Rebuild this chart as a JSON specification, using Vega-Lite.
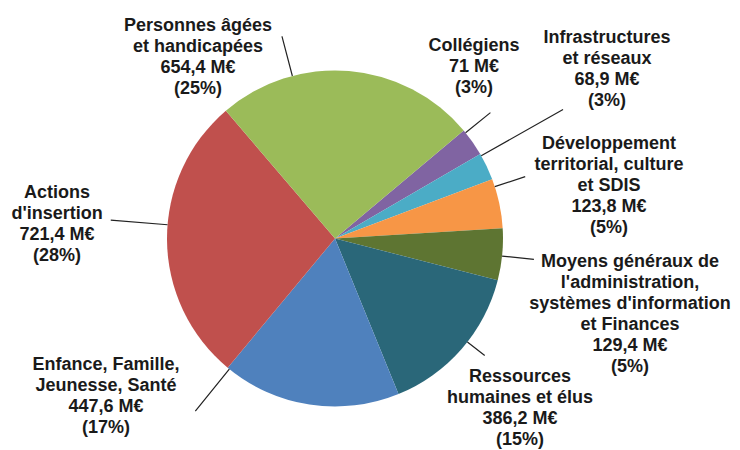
{
  "$schema": "https://vega.github.io/schema/vega-lite/v6.json",
  "width": 670,
  "height": 423,
  "autosize": {"type": "none"},
  "padding": {"left": 0, "top": 27, "right": 70, "bottom": 0},
  "background": "white",
  "config": {
    "view": {"stroke": null},
    "text": {"font": "Liberation Sans", "fontSize": 18, "fontWeight": "bold", "lineHeight": 21, "lineBreak": "\n", "align": "center", "baseline": "middle", "color": "#1a1a1a"}
  },
  "data": {"values": [
    {"ordre": 1, "poste": "Collégiens", "montant": 71, "etiquette": "Collégiens\n71 M€\n(3%)"},
    {"ordre": 2, "poste": "Infrastructures et réseaux", "montant": 68.9, "etiquette": "Infrastructures\net réseaux\n68,9 M€\n(3%)"},
    {"ordre": 3, "poste": "Développement territorial, culture et SDIS", "montant": 123.8, "etiquette": "Développement\nterritorial, culture\net SDIS\n123,8 M€\n(5%)"},
    {"ordre": 4, "poste": "Moyens généraux de l'administration, systèmes d'information et Finances", "montant": 129.4, "etiquette": "Moyens généraux de\nl'administration,\nsystèmes d'information\net Finances\n129,4 M€\n(5%)"},
    {"ordre": 5, "poste": "Ressources humaines et élus", "montant": 386.2, "etiquette": "Ressources\nhumaines et élus\n386,2 M€\n(15%)"},
    {"ordre": 6, "poste": "Enfance, Famille, Jeunesse, Santé", "montant": 447.6, "etiquette": "Enfance, Famille,\nJeunesse, Santé\n447,6 M€\n(17%)"},
    {"ordre": 7, "poste": "Actions d'insertion", "montant": 721.4, "etiquette": "Actions\nd'insertion\n721,4 M€\n(28%)"},
    {"ordre": 8, "poste": "Personnes âgées et handicapées", "montant": 654.4, "etiquette": "Personnes âgées\net handicapées\n654,4 M€\n(25%)"}
  ]},
  "transform": [
    {"stack": "montant", "groupby": [], "sort": [{"field": "ordre", "order": "ascending"}], "as": ["debut", "fin"]}
  ],
  "layer": [
    {
      "mark": {"type": "arc", "outerRadius": 168, "stroke": null},
      "encoding": {
        "theta": {"field": "fin", "type": "quantitative", "stack": null, "scale": {"range": [0.87266, 7.15585], "nice": false, "zero": true}},
        "theta2": {"field": "debut"},
        "color": {"field": "poste", "type": "nominal", "legend": null,
          "scale": {"domain": ["Collégiens", "Infrastructures et réseaux", "Développement territorial, culture et SDIS", "Moyens généraux de l'administration, systèmes d'information et Finances", "Ressources humaines et élus", "Enfance, Famille, Jeunesse, Santé", "Actions d'insertion", "Personnes âgées et handicapées"],
            "range": ["#8064A2", "#4BACC6", "#F79646", "#5E7532", "#2A6779", "#4F81BD", "#C0504D", "#9BBB59"]}}
      }
    },
    {"transform": [{"filter": "datum.ordre == 1"}], "mark": {"type": "arc", "innerRadius": 168, "outerRadius": 200, "thetaOffset": 0.01745, "theta2Offset": 0.01745, "fillOpacity": 0, "stroke": "#222", "strokeWidth": 1.2},
      "encoding": {"theta": {"field": "debut", "type": "quantitative", "stack": null}, "theta2": {"field": "debut"}}},
    {"transform": [{"filter": "datum.ordre == 2"}], "mark": {"type": "arc", "innerRadius": 168, "outerRadius": 262, "thetaOffset": 0.01185, "theta2Offset": 0.01185, "fillOpacity": 0, "stroke": "#222", "strokeWidth": 1.2},
      "encoding": {"theta": {"field": "debut", "type": "quantitative", "stack": null}, "theta2": {"field": "debut"}}},
    {"transform": [{"filter": "datum.ordre == 3"}], "mark": {"type": "arc", "innerRadius": 168, "outerRadius": 200, "thetaOffset": 0.04623, "theta2Offset": 0.04623, "fillOpacity": 0, "stroke": "#222", "strokeWidth": 1.2},
      "encoding": {"theta": {"field": "debut", "type": "quantitative", "stack": null}, "theta2": {"field": "debut"}}},
    {"transform": [{"filter": "datum.ordre == 4"}], "mark": {"type": "arc", "innerRadius": 168, "outerRadius": 200, "thetaOffset": 0.16624, "theta2Offset": 0.16624, "fillOpacity": 0, "stroke": "#222", "strokeWidth": 1.2},
      "encoding": {"theta": {"field": "debut", "type": "quantitative", "stack": null}, "theta2": {"field": "debut"}}},
    {"transform": [{"filter": "datum.ordre == 5"}], "mark": {"type": "arc", "innerRadius": 168, "outerRadius": 190, "thetaOffset": 0.41237, "theta2Offset": 0.41237, "fillOpacity": 0, "stroke": "#222", "strokeWidth": 1.2},
      "encoding": {"theta": {"field": "debut", "type": "quantitative", "stack": null}, "theta2": {"field": "debut"}}},
    {"transform": [{"filter": "datum.ordre == 6"}], "mark": {"type": "arc", "innerRadius": 168, "outerRadius": 222, "thetaOffset": 1.0681, "theta2Offset": 1.0681, "fillOpacity": 0, "stroke": "#222", "strokeWidth": 1.2},
      "encoding": {"theta": {"field": "debut", "type": "quantitative", "stack": null}, "theta2": {"field": "debut"}}},
    {"transform": [{"filter": "datum.ordre == 7"}], "mark": {"type": "arc", "innerRadius": 168, "outerRadius": 225, "thetaOffset": 0.9599, "theta2Offset": 0.9599, "fillOpacity": 0, "stroke": "#222", "strokeWidth": 1.2},
      "encoding": {"theta": {"field": "debut", "type": "quantitative", "stack": null}, "theta2": {"field": "debut"}}},
    {"transform": [{"filter": "datum.ordre == 8"}], "mark": {"type": "arc", "innerRadius": 168, "outerRadius": 209, "thetaOffset": 0.4506, "theta2Offset": 0.4506, "fillOpacity": 0, "stroke": "#222", "strokeWidth": 1.2},
      "encoding": {"theta": {"field": "debut", "type": "quantitative", "stack": null}, "theta2": {"field": "debut"}}},
    {"transform": [{"filter": "datum.ordre == 1"}], "mark": {"type": "text", "radius": 220.4, "thetaOffset": -0.19, "dy": -21},
      "encoding": {"theta": {"field": "debut", "type": "quantitative", "stack": null}, "text": {"field": "etiquette"}}},
    {"transform": [{"filter": "datum.ordre == 2"}], "mark": {"type": "text", "radius": 320.2, "thetaOffset": -0.0291, "dy": -31.5},
      "encoding": {"theta": {"field": "debut", "type": "quantitative", "stack": null}, "text": {"field": "etiquette"}}},
    {"transform": [{"filter": "datum.ordre == 3"}], "mark": {"type": "text", "radius": 279.0, "thetaOffset": 0.1711, "dy": -42},
      "encoding": {"theta": {"field": "debut", "type": "quantitative", "stack": null}, "text": {"field": "etiquette"}}},
    {"transform": [{"filter": "datum.ordre == 4"}], "mark": {"type": "text", "radius": 304.5, "thetaOffset": 0.3121, "dy": -52.5},
      "encoding": {"theta": {"field": "debut", "type": "quantitative", "stack": null}, "text": {"field": "etiquette"}}},
    {"transform": [{"filter": "datum.ordre == 5"}], "mark": {"type": "text", "radius": 251.6, "thetaOffset": 0.4937, "dy": -31.5},
      "encoding": {"theta": {"field": "debut", "type": "quantitative", "stack": null}, "text": {"field": "etiquette"}}},
    {"transform": [{"filter": "datum.ordre == 6"}], "mark": {"type": "text", "radius": 278.5, "thetaOffset": 1.353, "dy": -31.5},
      "encoding": {"theta": {"field": "debut", "type": "quantitative", "stack": null}, "text": {"field": "etiquette"}}},
    {"transform": [{"filter": "datum.ordre == 7"}], "mark": {"type": "text", "radius": 278.3, "thetaOffset": 0.9264, "dy": -31.5},
      "encoding": {"theta": {"field": "debut", "type": "quantitative", "stack": null}, "text": {"field": "etiquette"}}},
    {"transform": [{"filter": "datum.ordre == 8"}], "mark": {"type": "text", "radius": 227.0, "thetaOffset": 0.0597, "dy": -31.5},
      "encoding": {"theta": {"field": "debut", "type": "quantitative", "stack": null}, "text": {"field": "etiquette"}}}
  ]
}
